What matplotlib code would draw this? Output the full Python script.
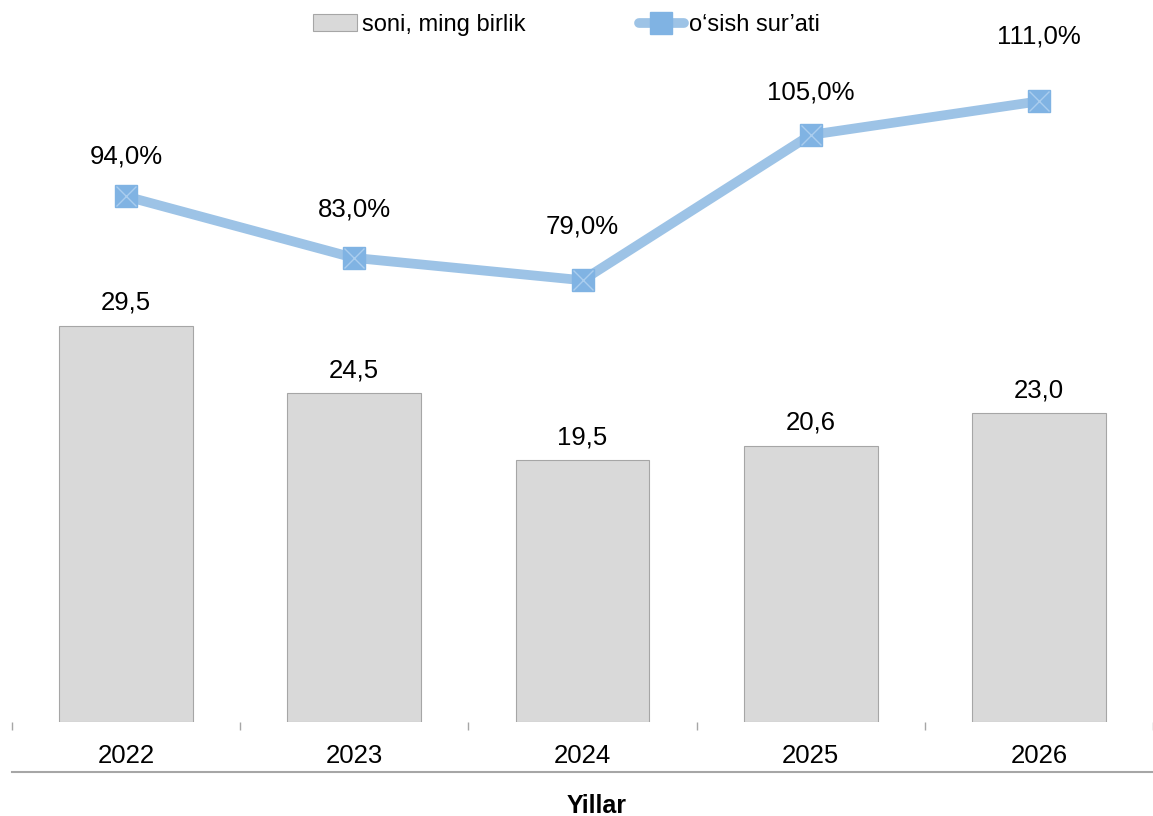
import numpy as np
import matplotlib.pyplot as plt
from matplotlib.lines import Line2D
from matplotlib.patches import Patch

years = ["2022", "2023", "2024", "2025", "2026"]
soni = [29.5, 24.5, 19.5, 20.6, 23.0]
osish = [94.0, 83.0, 79.0, 105.0, 111.0]

# label offsets above the line points (points)
line_lbl_off = [20, 26, 30, 22, 38]

plt.rcParams['font.family'] = ['Liberation Sans', 'DejaVu Sans']

W, H = 1153, 816
fig = plt.figure(figsize=(W / 100, H / 100), dpi=100)
ax = fig.add_axes([12 / W, (H - 722) / H, 1141 / W, (722 - 51) / H])
x = np.arange(len(years))

bars = ax.bar(x, soni, width=0.587, color='#D9D9D9', edgecolor='#A6A6A6',
              linewidth=0.8, zorder=2)
for xi, v in zip(x, soni):
    ax.annotate(f"{v:.1f}".replace('.', ','), (xi, v), xytext=(0, 8),
                textcoords='offset points', ha='center', va='bottom', fontsize=18.5)

ax.set_xlim(-0.5, len(years) - 0.5)
ax.set_ylim(0, 50)
ax.set_yticks([])
for s in ax.spines.values():
    s.set_visible(False)
ax.set_xticks(x)
ax.set_xticklabels(years, fontsize=18.5)
ax.tick_params(axis='x', which='major', length=0, pad=16)
ax.set_xticks(np.arange(-0.5, len(years)), minor=True)
ax.tick_params(axis='x', which='minor', length=6, width=1, color='#A6A6A6', direction='out')
ax.plot([0, 1], [-0.0745, -0.0745], transform=ax.transAxes, color='#A6A6A6',
        lw=1.5, clip_on=False)

ax2 = ax.twinx()
ax2.set_ylim(0, 120)
ax2.set_yticks([])
for s in ax2.spines.values():
    s.set_visible(False)
ax2.plot(x, osish, color='#9DC3E6', lw=7, solid_capstyle='round', zorder=3)
ax2.plot(x, osish, ls='none', marker='s', ms=16, mfc='#80B3E3', mec='#80B3E3', zorder=4)
ax2.plot(x, osish, ls='none', marker='x', ms=15, mew=1, mec='#AACDEE', zorder=5)
for xi, v, off in zip(x, osish, line_lbl_off):
    ax2.annotate(f"{v:.1f}%".replace('.', ','), (xi, v), xytext=(0, off),
                 textcoords='offset points', ha='center', va='bottom', fontsize=18.5)

handles = [Patch(facecolor='#D9D9D9', edgecolor='#A6A6A6', linewidth=0.8),
           Line2D([], [], color='#9DC3E6', lw=7, solid_capstyle='round',
                  marker='s', ms=16, mfc='#80B3E3', mec='#80B3E3')]
fig.legend(handles, ['soni, ming birlik', 'o‘sish sur’ati'], loc='center',
           bbox_to_anchor=(566 / W, 1 - 25 / H), ncol=2, frameon=False,
           prop={'size': 17}, borderpad=0,
           columnspacing=4.8, handlelength=1.9, handletextpad=0.2)

fig.text(597 / W, 1 - 806 / H, 'Yillar', ha='center', va='center',
         fontsize=18, fontweight='bold')

fig.savefig('out.png', dpi=100)
